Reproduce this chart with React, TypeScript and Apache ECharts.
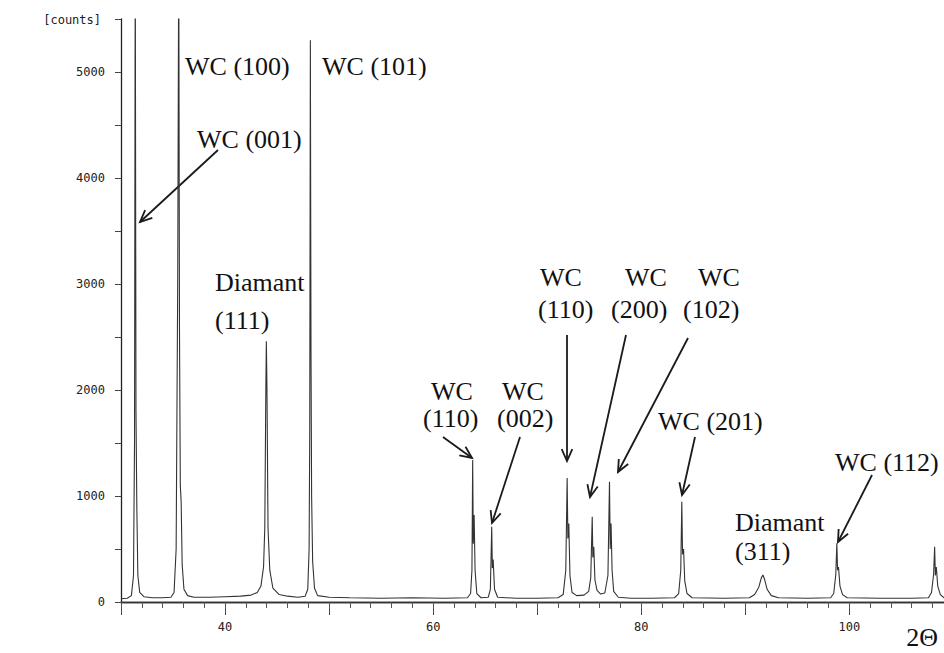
import React, { useEffect, useRef } from "react";
import * as echarts from "echarts";

// 2θ positions (degrees) of the scan points
const twoTheta = [
  30.0, 30.6, 31.0, 31.2, 31.3, 31.37, 31.44, 31.52, 31.62, 31.8, 32.2, 33.0, 34.0,
  34.8, 35.1, 35.3, 35.45, 35.55, 35.62, 35.7, 35.78, 35.88, 36.05, 36.4, 37.0, 38.5,
  40.0, 41.5, 42.5, 43.1, 43.45, 43.7, 43.82, 43.92, 43.97, 44.03, 44.13, 44.3, 44.6,
  45.2, 46.0, 47.0, 47.7, 47.95, 48.08, 48.14, 48.2, 48.26, 48.32, 48.42, 48.6, 48.9,
  50.0, 52.0, 55.0, 58.0, 61.0, 63.3, 63.6, 63.73, 63.8, 63.86, 63.94, 64.03, 64.2,
  64.6, 65.3, 65.5, 65.63, 65.69, 65.77, 65.9, 66.2, 68.0, 70.0, 72.0, 72.5, 72.75,
  72.88, 72.95, 73.04, 73.15, 73.35, 73.8, 74.5, 74.95, 75.15, 75.29, 75.35, 75.44,
  75.55, 75.75, 76.1, 76.5, 76.8, 76.95, 77.02, 77.1, 77.2, 77.35, 77.8, 79.0, 81.0,
  83.2, 83.6, 83.8, 83.9, 83.97, 84.07, 84.18, 84.4, 84.9, 88.0, 90.4, 90.9, 91.3,
  91.55, 91.7, 91.85, 92.1, 92.5, 93.2, 96.0, 98.2, 98.5, 98.7, 98.8, 98.87, 98.96,
  99.1, 99.35, 99.8, 103.0, 106.0, 107.6, 107.9, 108.1, 108.2, 108.27, 108.36, 108.5,
  108.75, 109.1,
];

// intensity (counts) at each point
const counts = [
  30, 35, 60, 250, 1500, 6200, 1800, 900, 250, 90, 50, 40, 40,
  45, 90, 500, 3000, 6200, 2600, 1100, 950, 350, 120, 60, 45, 45,
  50, 55, 65, 90, 150, 330, 700, 2000, 2460, 2000, 700, 300, 130,
  70, 55, 45, 55, 120, 500, 1600, 5300, 2400, 1000, 380, 130, 60,
  45, 40, 35, 40, 35, 40, 80, 300, 1340, 550, 820, 300, 80,
  40, 45, 120, 710, 320, 400, 120, 45, 35, 35, 40, 70, 300,
  1170, 600, 740, 250, 90, 60, 65, 100, 230, 805, 420, 520,
  210, 110, 75, 85, 250, 1135, 500, 740, 300, 100, 45, 35, 35,
  40, 80, 300, 946, 450, 500, 200, 80, 40, 35, 40, 70, 140,
  230, 255, 215, 120, 60, 40, 35, 40, 80, 260, 553, 300, 330,
  150, 70, 40, 35, 35, 40, 90, 260, 520, 250, 330, 150,
  70, 40,
];

const xTickLabels = [40, 60, 80, 100];
const yTickLabels = [0, 1000, 2000, 3000, 4000, 5000];

const peakLabels = [
  { text: "WC (100)", x: 185, y: 66 },
  { text: "WC (101)", x: 322, y: 66 },
  { text: "WC (001)", x: 197, y: 139 },
  { text: "Diamant", x: 215, y: 282 },
  { text: "(111)", x: 215, y: 320 },
  { text: "WC", x: 540, y: 277 },
  { text: "(110)", x: 538, y: 309 },
  { text: "WC", x: 625, y: 277 },
  { text: "(200)", x: 611, y: 309 },
  { text: "WC", x: 698, y: 277 },
  { text: "(102)", x: 683, y: 309 },
  { text: "WC", x: 431, y: 391 },
  { text: "(110)", x: 423, y: 418 },
  { text: "WC", x: 502, y: 391 },
  { text: "(002)", x: 497, y: 418 },
  { text: "WC (201)", x: 658, y: 421 },
  { text: "WC (112)", x: 835, y: 462 },
  { text: "Diamant", x: 735, y: 522 },
  { text: "(311)", x: 735, y: 551 },
];

const arrows = [
  { from: [218, 150], to: [140, 222] },
  { from: [443, 437], to: [472, 458] },
  { from: [520, 437], to: [492, 523] },
  { from: [567, 335], to: [567, 461] },
  { from: [626, 335], to: [590, 497] },
  { from: [688, 338], to: [618, 472] },
  { from: [695, 437], to: [682, 495] },
  { from: [872, 475], to: [838, 542] },
];

function arrowGraphic(from: number[], to: number[]) {
  const dx = to[0] - from[0];
  const dy = to[1] - from[1];
  const len = Math.hypot(dx, dy);
  const ux = dx / len;
  const uy = dy / len;
  const head = 13;
  const ang = 0.42;
  const rot = (a: number) => [
    ux * Math.cos(a) - uy * Math.sin(a),
    ux * Math.sin(a) + uy * Math.cos(a),
  ];
  const r1 = rot(ang);
  const r2 = rot(-ang);
  const stroke = { stroke: "#1a1a1a", lineWidth: 1.8, fill: "none" };
  return [
    {
      type: "line",
      shape: { x1: from[0], y1: from[1], x2: to[0], y2: to[1] },
      style: stroke,
    },
    {
      type: "polyline",
      shape: {
        points: [
          [to[0] - head * r1[0], to[1] - head * r1[1]],
          [to[0], to[1]],
          [to[0] - head * r2[0], to[1] - head * r2[1]],
        ],
      },
      style: stroke,
    },
  ];
}

export default function App() {
  const ref = useRef<HTMLDivElement>(null);

  useEffect(() => {
    if (!ref.current) return;
    const chart = echarts.init(ref.current, null, { renderer: "svg" });
    const data = twoTheta.map((t, i) => [t, counts[i]]);
    const monoLabel = {
      fontFamily: "DejaVu Sans Mono",
      fontSize: 12,
      color: "#222",
    };
    const xMin = 30;
    const xMax = 109.1;

    const graphics: any[] = [];
    peakLabels.forEach((p) =>
      graphics.push({
        type: "text",
        x: p.x,
        y: p.y,
        style: {
          text: p.text,
          fontFamily: "Liberation Serif",
          fontSize: 26,
          fill: "#111",
          textAlign: "left",
          textVerticalAlign: "middle",
        },
      })
    );
    arrows.forEach((a) => graphics.push(...arrowGraphic(a.from, a.to)));
    graphics.push({
      type: "text",
      x: 101,
      y: 20,
      style: {
        text: "[counts]",
        ...monoLabel,
        fill: "#222",
        textAlign: "right",
        textVerticalAlign: "middle",
      },
    });
    graphics.push({
      type: "text",
      x: 938,
      y: 637,
      style: {
        text: "2Θ",
        fontFamily: "Liberation Serif",
        fontSize: 26,
        fill: "#111",
        textAlign: "right",
        textVerticalAlign: "middle",
      },
    });

    chart.setOption({
      animation: false,
      backgroundColor: "#ffffff",
      grid: { left: 121, right: 0, top: 19, bottom: 51, containLabel: false },
      xAxis: [
        {
          type: "value",
          position: "bottom",
          min: xMin,
          max: xMax,
          interval: 10,
          axisLine: { show: true, onZero: false, lineStyle: { color: "#222", width: 1.3 } },
          axisTick: { show: true, length: 13, lineStyle: { color: "#444" } },
          axisLabel: {
            ...monoLabel,
            margin: 19,
            showMaxLabel: false,
            formatter: (v: number) => (xTickLabels.includes(v) ? String(v) : ""),
          },
          splitLine: { show: false },
        },
        {
          type: "value",
          position: "top",
          min: xMin,
          max: xMax,
          axisLine: { show: true, lineStyle: { color: "#333", width: 1.3 } },
          axisTick: { show: false },
          axisLabel: { show: false },
          splitLine: { show: false },
        },
        {
          type: "value",
          position: "bottom",
          min: xMin,
          max: xMax,
          interval: 2,
          axisLine: { show: false, onZero: false },
          axisTick: { show: true, length: 6, lineStyle: { color: "#555" } },
          axisLabel: { show: false },
          splitLine: { show: false },
        },
      ],
      yAxis: {
        type: "value",
        min: 0,
        max: 5500,
        interval: 500,
        axisLine: { show: true, lineStyle: { color: "#222", width: 1.3 } },
        axisTick: { show: true, length: 6, lineStyle: { color: "#444" } },
        axisLabel: {
          ...monoLabel,
          margin: 16,
          formatter: (v: number) => (yTickLabels.includes(v) ? String(v) : ""),
        },
        splitLine: { show: false },
      },
      series: [
        {
          type: "line",
          data,
          xAxisIndex: 0,
          showSymbol: false,
          symbol: "none",
          clip: true,
          lineStyle: { color: "#333", width: 1.1 },
          z: 3,
        },
      ],
      graphic: graphics,
    });

    return () => chart.dispose();
  }, []);

  return (
    <div
      ref={ref}
      style={{ position: "fixed", left: 0, top: 0, width: 944, height: 653, background: "#fff" }}
    />
  );
}
